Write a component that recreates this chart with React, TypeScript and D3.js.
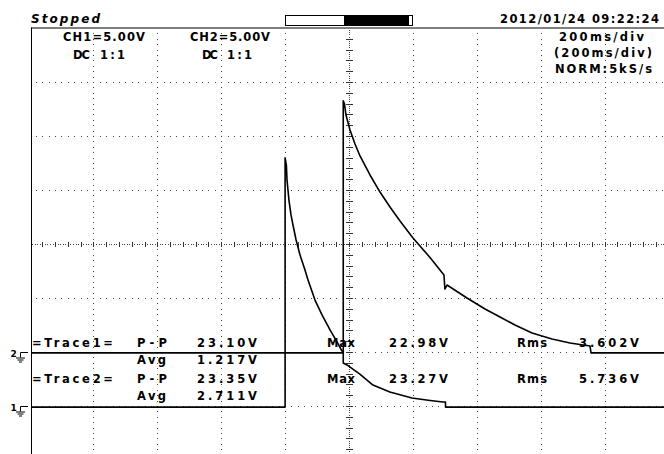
import React from "react";
import * as d3 from "d3";

const WIDTH = 664;
const HEIGHT = 454;

// Status / header texts
const statusLabel = "Stopped";
const dateLabel = "2012/01/24  09:22:24";
const channelScaleLabels = ["CH1=5.00V", "CH2=5.00V"];
const couplingLabels = ["DC", "DC"];
const probeLabels = ["1:1", "1:1"];
const timebaseLabels = ["200ms/div", "(200ms/div)", "NORM:5kS/s"];

// Measurement readouts
const traceLabels = ["=Trace1=", "=Trace2="];
const ppLabel = "P-P";
const avgLabel = "Avg";
const maxLabel = "Max";
const rmsLabel = "Rms";
const ppValues = ["23.10V", "23.35V"];
const avgValues = ["1.217V", "2.711V"];
const maxValues = ["22.98V", "23.27V"];
const rmsValues = ["3.602V", "5.736V"];

// Channel settings
const channelIds = ["1", "2"];
const voltsPerDiv = [5, 5];
const groundDiv = [-3, -2];
const msPerDiv = 200;

// CH1 samples: time (ms from left edge of screen), volts
const ch1TimeMs = [0, 800, 800, 804, 806, 812, 818.5, 824.7, 834.4, 846.7, 862.3, 871.7, 893.6, 915.5, 940.6, 962.5, 978, 982, 982, 993.7, 1034, 1075, 1128, 1197, 1254, 1294, 1302, 1302, 2000];
const ch1Volts = [-0.1, -0.1, 22.98, 22.31, 20.93, 19.07, 17.69, 16.76, 15.37, 13.98, 12.59, 11.67, 9.81, 8.43, 7.04, 5.93, 5.09, 5.09, 3.98, 3.8, 2.96, 1.94, 1.3, 0.74, 0.51, 0.37, 0.37, -0.1, -0.1];

// CH2 samples: time (ms from left edge of screen), volts
const ch2TimeMs = [0, 982, 982, 985.9, 990.6, 1003.1, 1018.8, 1034.4, 1065.7, 1097, 1128.3, 1159.6, 1200.3, 1253.5, 1297.3, 1300, 1306.7, 1369.3, 1425.7, 1472.6, 1519.6, 1572.8, 1635.4, 1691.7, 1754.3, 1757.4, 2000];
const ch2Volts = [-0.08, -0.08, 23.27, 22.96, 21.94, 20.56, 19.26, 18.15, 16.39, 14.81, 13.43, 12.13, 10.56, 8.75, 7.13, 5.83, 6.2, 5.0, 3.98, 3.24, 2.5, 1.76, 1.2, 0.83, 0.56, -0.08, -0.08];

const FONT = "'DejaVu Sans', 'Liberation Sans', Arial, sans-serif";

type Pt = { t: number; v: number };

function zip(ts: number[], vs: number[]): Pt[] {
  return ts.map((t, i) => ({ t, v: vs[i] }));
}

function Label(props: {
  x: number;
  y: number;
  w: number;
  text: string;
  italic?: boolean;
  size?: number;
}) {
  const { x, y, w, text, italic, size } = props;
  return (
    <text
      x={x}
      y={y}
      textLength={w}
      lengthAdjust="spacing"
      fontFamily={FONT}
      fontWeight="bold"
      fontStyle={italic ? "italic" : "normal"}
      fontSize={size ?? 11.5}
      fill="#000"
    >
      {text}
    </text>
  );
}

// one-pixel square dots, snapped to the pixel grid
function dotsPath(points: [number, number][]): string {
  return points
    .map(([px, py]) => `M${Math.round(px)},${Math.round(py)}h1v1h-1z`)
    .join("");
}

export default function App() {
  // Screen: 10 horizontal divisions, 8 vertical divisions
  const divPx = 63.9;
  const divPy = 54;
  const x0 = 29.5;
  const x = d3
    .scaleLinear()
    .domain([0, msPerDiv * 10])
    .range([x0, x0 + divPx * 10]);
  const yDiv = d3.scaleLinear().domain([-4, 4]).range([460, 28]);
  const yFor = (ch: number) => (v: number) =>
    yDiv(groundDiv[ch] + v / voltsPerDiv[ch]);

  const left = 31;
  const top = 27.5;

  const vLines = d3.range(1, 10).filter((k) => k !== 5).map((k) => x(k * msPerDiv));
  const hLines = d3.range(-3, 4).filter((k) => k !== 0).map((k) => yDiv(k));
  const cx = Math.round(x(5 * msPerDiv));
  const cy = yDiv(0);

  // graticule dots: 10 per division on ordinary lines, 25 per division on centre axes
  const gridDots: [number, number][] = [];
  hLines.forEach((yy) => {
    for (let i = 0; i <= 100; i++) {
      const px = x0 + (i * divPx) / 10;
      if (px > left + 1 && px < WIDTH) gridDots.push([px, yy]);
    }
  });
  vLines.forEach((xx) => {
    for (let j = 1; j <= 80; j++) {
      const py = 28 + (j * divPy) / 10;
      if (py < HEIGHT) gridDots.push([xx, py]);
    }
  });
  const axisDots: [number, number][] = [];
  for (let i = 0; i <= 250; i++) {
    const px = x0 + (i * divPx) / 25;
    if (px > left + 1 && px < WIDTH) axisDots.push([px, cy]);
  }
  for (let j = 1; j <= 200; j++) {
    const py = 28 + (j * divPy) / 25;
    if (py < HEIGHT) axisDots.push([cx, py]);
  }

  // minor ticks along the centre axes
  const xTicks = d3.range(0, 10 * 5 + 1).map((i) => Math.round(x0 + (i * divPx) / 5)).filter((t) => t > left + 1 && t < WIDTH);
  const yTicks = d3.range(1, 8 * 5 + 1).map((i) => Math.round(28 + (i * divPy) / 5)).filter((t) => t < HEIGHT);

  const traces = [zip(ch1TimeMs, ch1Volts), zip(ch2TimeMs, ch2Volts)];
  const paths = traces.map((pts, ch) =>
    d3
      .line<Pt>()
      .x((d) => Math.max(left, x(d.t)))
      .y((d) => yFor(ch)(d.v))(pts)
  );

  const ground = (ch: number) => {
    const gy = Math.round(yFor(ch)(0)) + 0.5;
    return (
      <g key={"g" + ch}>
        <text x={10.5} y={gy + 4.5} fontFamily={FONT} fontWeight="bold" fontSize={9} fill="#000">
          {channelIds[ch]}
        </text>
        <path
          d={`M20.5,${gy}H28M20.5,${gy}V${gy + 5}M16,${gy + 5.5}H25M17.5,${gy + 7.5}H23.5M19,${gy + 9.5}H22`}
          stroke="#000"
          strokeWidth={1}
          fill="none"
        />
      </g>
    );
  };

  const rowY = [346.5, 364, 382.5, 400];

  return (
    <svg
      width={WIDTH}
      height={HEIGHT}
      style={{ position: "absolute", left: 0, top: 0, background: "#fff" }}
    >
      <rect x={0} y={0} width={WIDTH} height={HEIGHT} fill="#fff" />

      {/* dotted graticule */}
      <path d={dotsPath(gridDots)} fill="#444" />
      <path d={dotsPath(axisDots)} fill="#444" />
      <g stroke="#333" strokeWidth={1}>
        {xTicks.map((tx, i) => (
          <line key={"xt" + i} x1={tx + 0.5} x2={tx + 0.5} y1={cy - 2} y2={cy + 3} />
        ))}
        {yTicks.map((ty, i) => (
          <line key={"yt" + i} x1={cx - 3} x2={cx + 4} y1={ty + 0.5} y2={ty + 0.5} />
        ))}
      </g>

      {/* frame */}
      <line x1={left + 0.5} x2={left + 0.5} y1={top} y2={HEIGHT} stroke="#000" strokeWidth={1} />
      <line x1={left} x2={WIDTH} y1={top + 0.5} y2={top + 0.5} stroke="#000" strokeWidth={1} />

      {/* traces */}
      {paths.map((d, i) => (
        <path key={"tr" + i} d={d ?? ""} fill="none" stroke="#000" strokeWidth={1.6} strokeLinejoin="round" />
      ))}

      {/* ground markers */}
      {ground(0)}
      {ground(1)}

      {/* header */}
      <Label x={31} y={22.5} w={69} text={statusLabel} italic size={12} />
      <rect x={285.5} y={15.5} width={127} height={10} fill="#fff" stroke="#000" strokeWidth={1} />
      <rect x={344} y={16} width={65} height={9} fill="#000" />
      <Label x={500} y={23} w={159} text={dateLabel} />

      <Label x={63} y={40.5} w={82} text={channelScaleLabels[0]} />
      <Label x={73} y={58.5} w={17} text={couplingLabels[0]} />
      <Label x={100} y={58.5} w={25} text={probeLabels[0]} />
      <Label x={190} y={40.5} w={80} text={channelScaleLabels[1]} />
      <Label x={202} y={58.5} w={16} text={couplingLabels[1]} />
      <Label x={227} y={58.5} w={25} text={probeLabels[1]} />

      <Label x={559} y={40.5} w={85} text={timebaseLabels[0]} />
      <Label x={554} y={57} w={98} text={timebaseLabels[1]} />
      <Label x={555} y={73} w={97} text={timebaseLabels[2]} />

      {/* measurements */}
      {[0, 1].map((i) => (
        <g key={"m" + i}>
          <Label x={32} y={rowY[i * 2]} w={81} text={traceLabels[i]} />
          <Label x={137} y={rowY[i * 2]} w={30} text={ppLabel} />
          <Label x={197} y={rowY[i * 2]} w={60} text={ppValues[i]} />
          <Label x={327} y={rowY[i * 2]} w={28} text={maxLabel} />
          <Label x={389} y={rowY[i * 2]} w={59} text={maxValues[i]} />
          <Label x={517} y={rowY[i * 2]} w={30} text={rmsLabel} />
          <Label x={579} y={rowY[i * 2]} w={60} text={rmsValues[i]} />
          <Label x={137} y={rowY[i * 2 + 1]} w={29} text={avgLabel} />
          <Label x={197} y={rowY[i * 2 + 1]} w={60} text={avgValues[i]} />
        </g>
      ))}
    </svg>
  );
}
